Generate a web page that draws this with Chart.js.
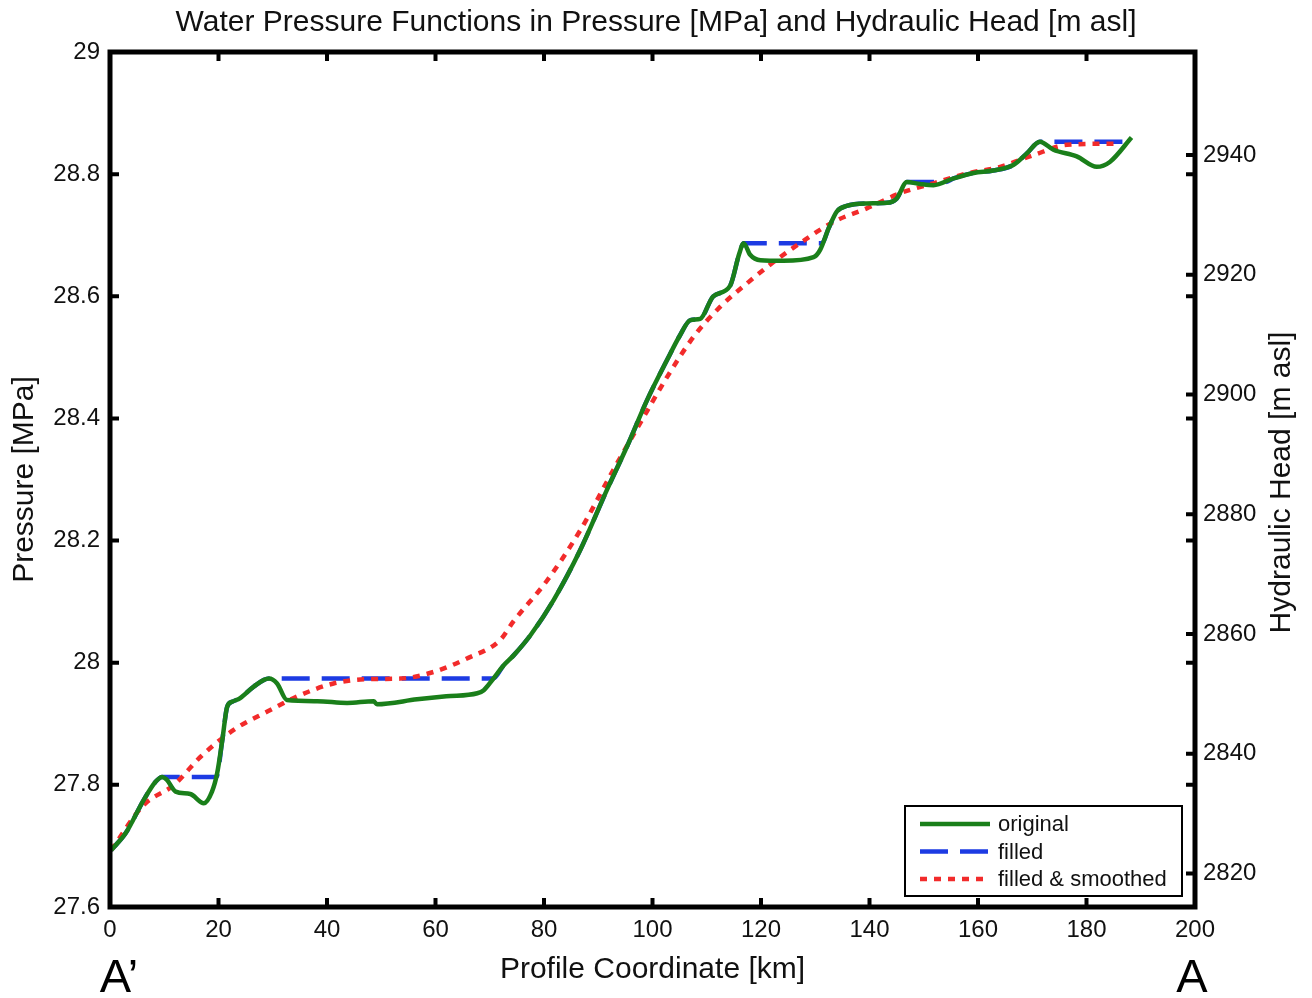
<!DOCTYPE html>
<html>
<head>
<meta charset="utf-8">
<title>Water Pressure Functions</title>
<script src="https://cdn.jsdelivr.net/npm/chart.js@4.4.1/dist/chart.umd.min.js"></script>
<style>
  body { margin: 0; background: #fff; }
  #wrap { width: 1312px; height: 998px; }
</style>
</head>
<body>
<div id="wrap"><canvas id="pressureChart" width="1312" height="998"></canvas></div>
<script>
// profile coordinate [km] / pressure [MPa]
const originalKm = [0.2, 2.9, 6.2, 8.4, 9.6, 10.5, 12.1, 14.8, 17.3, 18.8, 19.75, 20.7, 21.6, 22.5, 24.0, 26.5,
    29.3, 30.8, 32.6, 38.2, 43.7, 48.6, 49.2, 56.6, 62.0, 67.7, 68.9, 70.5, 72.5, 74.4, 77.5, 81.8, 86.7, 91.6,
    95.3, 99.0, 102.7, 105.0, 107.0, 108.8, 111.2, 114.3, 116.0, 116.8, 118.0, 119.9, 124.1, 129.7, 130.9, 132.5,
    134.0, 135.8, 139.5, 143.2, 145.0, 146.9, 149.3, 151.8, 155.5, 159.2, 162.8, 166.5, 169.0, 171.4, 173.9,
    178.2, 181.9, 184.3, 188.3];
const originalMPa = [27.693, 27.721, 27.775, 27.805, 27.813, 27.808, 27.789, 27.785, 27.770, 27.789, 27.819,
    27.873, 27.928, 27.936, 27.942, 27.961, 27.974, 27.966, 27.939, 27.937, 27.934, 27.937, 27.932, 27.940,
    27.945, 27.950, 27.955, 27.972, 27.995, 28.012, 28.045, 28.103, 28.185, 28.283, 28.354, 28.430, 28.496,
    28.535, 28.561, 28.563, 28.600, 28.617, 28.670, 28.687, 28.668, 28.659, 28.658, 28.664, 28.676, 28.712,
    28.739, 28.748, 28.752, 28.753, 28.760, 28.787, 28.784, 28.782, 28.793, 28.802, 28.806, 28.815, 28.834,
    28.853, 28.840, 28.829, 28.812, 28.820, 28.860];

const filledKm = [0.2, 2.9, 6.2, 8.4, 9.6, 19.6, 20.7, 21.6, 22.5, 24.0, 26.5, 29.3, 70.6, 72.5, 74.4, 77.5,
    81.8, 86.7, 91.6, 95.3, 99.0, 102.7, 105.0, 107.0, 108.8, 111.2, 114.3, 116.0, 116.8, 131.2, 132.5, 134.0,
    135.8, 139.5, 143.2, 145.0, 146.9, 154.0, 155.5, 159.2, 162.8, 166.5, 169.0, 171.4, 187.6, 188.3];
const filledMPa = [27.693, 27.721, 27.775, 27.805, 27.813, 27.813, 27.873, 27.928, 27.936, 27.942, 27.961,
    27.974, 27.974, 27.995, 28.012, 28.045, 28.103, 28.185, 28.283, 28.354, 28.430, 28.496, 28.535, 28.561,
    28.563, 28.600, 28.617, 28.670, 28.687, 28.687, 28.712, 28.739, 28.748, 28.752, 28.753, 28.760, 28.787,
    28.787, 28.793, 28.802, 28.806, 28.815, 28.834, 28.853, 28.853, 28.860];

const smoothedKm = [0.2, 6.2, 11.8, 16.7, 22.8, 29.0, 35.1, 41.2, 47.4, 53.5, 59.7, 65.8, 71.9, 74.4, 80.6,
    86.7, 92.8, 97.7, 102.7, 107.6, 112.5, 117.4, 122.3, 127.2, 133.4, 139.5, 145.7, 151.8, 157.9, 164.1,
    170.2, 176.4, 185.3];
const smoothedMPa = [27.693, 27.767, 27.800, 27.846, 27.890, 27.920, 27.947, 27.966, 27.973, 27.974, 27.985,
    28.007, 28.037, 28.068, 28.135, 28.217, 28.316, 28.392, 28.468, 28.534, 28.583, 28.621, 28.656, 28.687,
    28.722, 28.744, 28.769, 28.785, 28.801, 28.812, 28.831, 28.848, 28.850];

const kmTicks = [0, 20, 40, 60, 80, 100, 120, 140, 160, 180, 200];
const mpaTicks = [27.6, 27.8, 28, 28.2, 28.4, 28.6, 28.8, 29];
const headTicks = [2820, 2840, 2860, 2880, 2900, 2920, 2940];

// head range matching 27.6 - 29 MPa (rho = 1000, g = 9.80665)
const headMin = 2814.42;
const headMax = 2957.18;

const FONT = "'Liberation Sans', Arial, Helvetica, sans-serif";

function toPoints(xs, ys) {
    return xs.map((x, i) => ({ x: x, y: ys[i] }));
}

function fixedTicks(values) {
    return scale => { scale.ticks = values.map(v => ({ value: v })); };
}

// matlab style box, inward ticks, legend and the extra labels
const matlabFrame = {
    id: 'matlabFrame',
    afterDraw(chart) {
        const ctx = chart.ctx;
        const area = chart.chartArea;
        const xs = chart.scales.x, ys = chart.scales.y, hs = chart.scales.y2;
        const tickLen = 9;

        ctx.save();
        ctx.strokeStyle = '#000';
        ctx.lineWidth = 4;
        ctx.lineCap = 'butt';
        ctx.beginPath();
        kmTicks.forEach(v => {
            const px = xs.getPixelForValue(v);
            ctx.moveTo(px, area.bottom); ctx.lineTo(px, area.bottom - tickLen);
            ctx.moveTo(px, area.top); ctx.lineTo(px, area.top + tickLen);
        });
        mpaTicks.forEach(v => {
            const py = ys.getPixelForValue(v);
            ctx.moveTo(area.left, py); ctx.lineTo(area.left + tickLen, py);
            ctx.moveTo(area.right, py); ctx.lineTo(area.right - tickLen, py);
        });
        headTicks.forEach(v => {
            const py = hs.getPixelForValue(v);
            ctx.moveTo(area.right, py); ctx.lineTo(area.right - tickLen, py);
        });
        ctx.stroke();

        ctx.lineWidth = 5;
        ctx.strokeRect(area.left, area.top, area.right - area.left, area.bottom - area.top);

        // legend box, bottom right inside the axes
        const entries = [0, 1, 2].map(i => chart.data.datasets[i]);
        const boxW = 277, boxH = 90;
        const bx = area.right - 13 - boxW, by = area.bottom - 11 - boxH;
        ctx.fillStyle = '#fff';
        ctx.fillRect(bx, by, boxW, boxH);
        ctx.lineWidth = 2;
        ctx.strokeStyle = '#000';
        ctx.strokeRect(bx, by, boxW, boxH);
        ctx.font = '22px ' + FONT;
        ctx.textBaseline = 'middle';
        ctx.textAlign = 'left';
        entries.forEach((ds, i) => {
            const ly = by + 18 + i * 27.5;
            ctx.beginPath();
            ctx.strokeStyle = ds.borderColor;
            ctx.lineWidth = ds.borderWidth;
            ctx.setLineDash(ds.borderDash || []);
            ctx.moveTo(bx + 15, ly);
            ctx.lineTo(bx + 85, ly);
            ctx.stroke();
            ctx.setLineDash([]);
            ctx.fillStyle = '#111';
            ctx.fillText(ds.label, bx + 93, ly + 1);
        });

        // right axis title reads bottom to top like the left one
        ctx.save();
        ctx.translate(1282, (area.top + area.bottom) / 2 + 3);
        ctx.rotate(-Math.PI / 2);
        ctx.font = '30px ' + FONT;
        ctx.textAlign = 'center';
        ctx.textBaseline = 'middle';
        ctx.fillStyle = '#111';
        ctx.fillText('Hydraulic Head [m asl]', 0, 0);
        ctx.restore();

        // profile end points
        ctx.font = '47px ' + FONT;
        ctx.textAlign = 'center';
        ctx.textBaseline = 'alphabetic';
        ctx.fillStyle = '#000';
        ctx.fillText('A\u2019', xs.getPixelForValue(0) + 9, 992);
        ctx.fillText('A', xs.getPixelForValue(200) - 3, 992);
        ctx.restore();
    }
};

const tickFont = { family: FONT, size: 24 };
const titleFont = { family: FONT, size: 30 };

const ctx = document.getElementById('pressureChart').getContext('2d');
const chart = new Chart(ctx, {
    type: 'line',
    data: {
        datasets: [{
            label: 'original',
            data: toPoints(originalKm, originalMPa),
            borderColor: '#1a7f1a',
            borderWidth: 4.5,
            order: 0,
            yAxisID: 'y'
        }, {
            label: 'filled',
            data: toPoints(filledKm, filledMPa),
            borderColor: '#1d3be3',
            borderWidth: 4.5,
            borderDash: [28, 12],
            order: 2,
            yAxisID: 'y'
        }, {
            label: 'filled & smoothed',
            data: toPoints(smoothedKm, smoothedMPa),
            borderColor: '#f22b2b',
            borderWidth: 4.5,
            borderDash: [7, 7],
            order: 1,
            yAxisID: 'y'
        }]
    },
    options: {
        responsive: false,
        animation: false,
        layout: { padding: 0 },
        elements: {
            point: { radius: 0 },
            line: { cubicInterpolationMode: 'monotone', fill: false }
        },
        plugins: {
            legend: { display: false },
            tooltip: { enabled: false },
            title: {
                display: true,
                text: 'Water Pressure Functions in Pressure [MPa] and Hydraulic Head [m asl]',
                color: '#111',
                font: { family: FONT, size: 30, weight: 'normal' },
                padding: { top: 5, bottom: 11 }
            }
        },
        scales: {
            x: {
                type: 'linear',
                min: 0,
                max: 200,
                afterBuildTicks: fixedTicks(kmTicks),
                afterFit: scale => { scale.height = 91; },
                grid: { display: false, drawTicks: false },
                border: { display: false },
                ticks: { color: '#111', font: tickFont, padding: 9, maxRotation: 0 },
                title: { display: true, text: 'Profile Coordinate [km]', color: '#111', font: titleFont, padding: { top: 0, bottom: 10 } }
            },
            y: {
                type: 'linear',
                position: 'left',
                min: 27.6,
                max: 29,
                afterBuildTicks: fixedTicks(mpaTicks),
                afterFit: scale => { scale.width = 110; },
                grid: { display: false, drawTicks: false },
                border: { display: false },
                ticks: { color: '#111', font: tickFont, padding: 10, callback: v => String(v) },
                title: { display: true, text: 'Pressure [MPa]', color: '#111', font: titleFont, padding: { top: 7 } }
            },
            y2: {
                type: 'linear',
                position: 'right',
                min: headMin,
                max: headMax,
                afterBuildTicks: fixedTicks(headTicks),
                afterFit: scale => { scale.width = 117; },
                grid: { display: false, drawTicks: false },
                border: { display: false },
                ticks: { color: '#111', font: tickFont, padding: 8, callback: v => String(v) }
            }
        }
    },
    plugins: [matlabFrame]
});
</script>
</body>
</html>
